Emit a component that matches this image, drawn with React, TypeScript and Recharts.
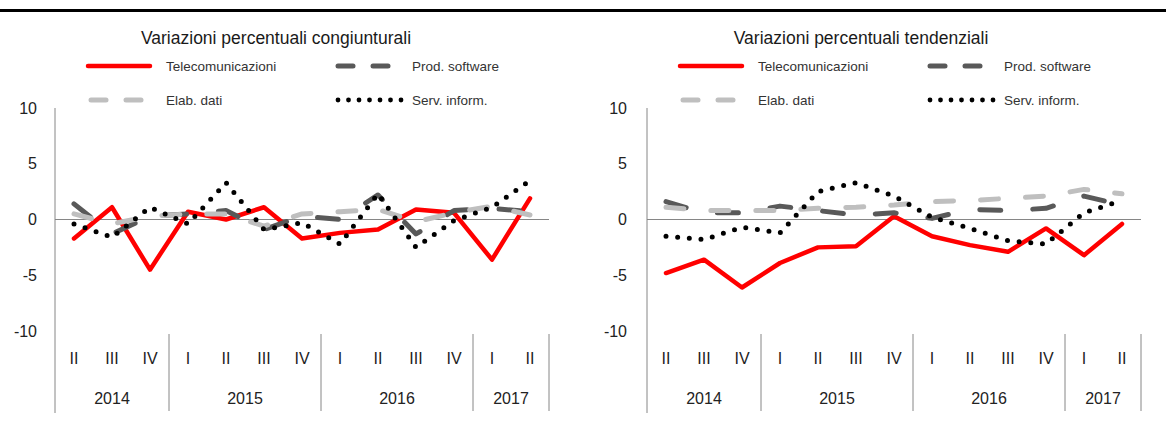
import { LineChart, Line, XAxis, YAxis, ReferenceLine } from 'recharts';

const quarters = ['II', 'III', 'IV', 'I', 'II', 'III', 'IV', 'I', 'II', 'III', 'IV', 'I', 'II'];
const years = ['2014', '2014', '2014', '2015', '2015', '2015', '2015', '2016', '2016', '2016', '2016', '2017', '2017'];
const yTicks = [-10, -5, 0, 5, 10];

// variazioni congiunturali
const congTel = [-1.7, 1.1, -4.5, 0.7, 0.0, 1.1, -1.7, -1.2, -0.9, 0.9, 0.6, -3.6, 1.9];
const congSoft = [1.4, -1.3, 0.3, 0.5, 0.8, -0.9, 0.3, 0.0, 2.2, -1.3, 0.8, 1.0, 0.7];
const congElab = [0.5, -0.4, 0.3, 0.5, 0.5, -0.6, 0.5, 0.7, 0.9, -0.2, 0.6, 1.2, 0.4];
const congServ = [-0.4, -1.6, 1.1, -0.4, 3.3, -0.9, -0.3, -2.2, 2.3, -2.5, -0.1, 1.1, 3.5];

// variazioni tendenziali
const tendTel = [-4.8, -3.6, -6.1, -3.9, -2.5, -2.4, 0.3, -1.5, -2.3, -2.9, -0.8, -3.2, -0.4];
const tendSoft = [1.6, 0.6, 0.6, 1.2, 0.8, 0.4, 0.6, 0.1, 0.9, 0.8, 1.0, 2.1, 1.3];
const tendElab = [1.1, 0.8, 0.8, 0.8, 1.0, 1.1, 1.3, 1.6, 1.7, 1.9, 2.1, 2.7, 2.3];
const tendServ = [-1.5, -1.8, -0.7, -1.2, 2.5, 3.3, 2.1, 0.2, -0.8, -1.9, -2.2, 0.6, 1.7];

const series = [
  { key: 'tel', name: 'Telecomunicazioni', color: '#ff0000', width: 4.5, dash: undefined as string | undefined },
  { key: 'soft', name: 'Prod. software', color: '#595959', width: 5, dash: '21 32' },
  { key: 'elab', name: 'Elab. dati', color: '#bfbfbf', width: 5, dash: '18 27' },
  { key: 'serv', name: 'Serv. inform.', color: '#000000', width: 5, dash: '0 11.7' },
];

const keys = quarters.map((q, i) => `${years[i]} ${q}`);

const groups: { label: string; start: number; end: number }[] = [];
years.forEach((y, i) => {
  const last = groups[groups.length - 1];
  if (last && last.label === y) last.end = i;
  else groups.push({ label: y, start: i, end: i });
});

function buildRows(tel: number[], soft: number[], elab: number[], serv: number[]) {
  return keys.map((k, i) => ({ k, tel: tel[i], soft: soft[i], elab: elab[i], serv: serv[i] }));
}

const PLOT_W = 494;
const BW = PLOT_W / quarters.length;
const AXIS = '#868686';
const FONT = '"Liberation Sans", Arial, sans-serif';

function QuarterTick(props: any) {
  const { x, y, payload } = props;
  const i = keys.indexOf(payload.value);
  const g = groups.find((gr) => gr.start === i);
  return (
    <g>
      <text x={x} y={y + 33} textAnchor="middle" fontSize={16} fill="#222">
        {quarters[i]}
      </text>
      {g && (
        <line x1={x - BW / 2} x2={x - BW / 2} y1={i === 0 ? y : y + 3} y2={i === 0 ? y + 82 : y + 80} stroke={AXIS} />
      )}
      {g && (
        <text x={x + ((g.end - g.start) / 2) * BW} y={y + 73} textAnchor="middle" fontSize={16} fill="#222">
          {g.label}
        </text>
      )}
      {i === quarters.length - 1 && (
        <line x1={x + BW / 2} x2={x + BW / 2} y1={y + 3} y2={y + 80} stroke={AXIS} />
      )}
    </g>
  );
}

function LegendSample({ s, x, y }: { s: (typeof series)[number]; x: number; y: number }) {
  if (s.key === 'tel') return <line x1={x} x2={x + 62} y1={y} y2={y} stroke={s.color} strokeWidth={4.5} strokeLinecap="round" />;
  if (s.key === 'serv') {
    return (
      <g>
        {[0, 1, 2, 3, 4, 5, 6].map((d) => (
          <circle key={d} cx={x + 3 + d * 10.5} cy={y} r={2.4} fill={s.color} />
        ))}
      </g>
    );
  }
  return (
    <g>
      <line x1={x + 3} x2={x + 18} y1={y} y2={y} stroke={s.color} strokeWidth={5} strokeLinecap="round" />
      <line x1={x + 38} x2={x + 53} y1={y} y2={y} stroke={s.color} strokeWidth={5} strokeLinecap="round" />
    </g>
  );
}

function Panel({ left, title, titleX, rows, tickMargin }: { left: number; title: string; titleX: number; rows: any[]; tickMargin: number }) {
  const slots = [
    { x: 88, tx: 166, y: 66 },
    { x: 335, tx: 412, y: 66 },
    { x: 88, tx: 166, y: 100 },
    { x: 335, tx: 412, y: 100 },
  ];
  return (
    <div style={{ position: 'absolute', left, top: 0, width: 600, height: 430 }}>
      <svg width={600} height={120} style={{ position: 'absolute', left: 0, top: 0 }}>
        <text x={titleX} y={44} textAnchor="middle" fontSize={17.5} fill="#1a1a1a">
          {title}
        </text>
        {series.map((s, i) => (
          <g key={s.key}>
            <LegendSample s={s} x={slots[i].x} y={slots[i].y} />
            <text x={slots[i].tx} y={slots[i].y + 5} fontSize={13.5} fill="#333">
              {s.name}
            </text>
          </g>
        ))}
      </svg>
      <LineChart
        width={600}
        height={430}
        data={rows}
        margin={{ top: 108, right: 51, bottom: 17, left: 15 }}
        style={{ position: 'absolute', left: 0, top: 0 }}
      >
        <XAxis
          dataKey="k"
          axisLine={false}
          tickLine={false}
          tickSize={0}
          tickMargin={0}
          height={82}
          interval={0}
          padding={{ left: BW / 2, right: BW / 2 }}
          tick={<QuarterTick />}
        />
        <YAxis
          domain={[-10, 10]}
          ticks={yTicks}
          width={40}
          axisLine={{ stroke: AXIS }}
          tickLine={false}
          tickSize={0}
          tickMargin={tickMargin}
          tick={{ fontSize: 16, fill: '#222' }}
          allowDataOverflow
        />
        <ReferenceLine y={0} stroke={AXIS} />
        {series.map((s) => (
          <Line
            key={s.key}
            dataKey={s.key}
            name={s.name}
            type="linear"
            stroke={s.color}
            strokeWidth={s.width}
            strokeDasharray={s.dash}
            strokeLinecap="round"
            strokeLinejoin="round"
            dot={false}
            activeDot={false}
            isAnimationActive={false}
          />
        ))}
      </LineChart>
    </div>
  );
}

export default function App() {
  return (
    <div style={{ position: 'absolute', left: 0, top: 0, width: 1166, height: 430, background: '#fff', fontFamily: FONT }}>
      <div style={{ position: 'absolute', left: 0, top: 9, width: 1166, height: 3, background: '#000' }} />
      <Panel
        left={0}
        title="Variazioni percentuali congiunturali"
        titleX={276}
        rows={buildRows(congTel, congSoft, congElab, congServ)}
        tickMargin={18}
      />
      <Panel
        left={592}
        title="Variazioni percentuali tendenziali"
        titleX={269}
        rows={buildRows(tendTel, tendSoft, tendElab, tendServ)}
        tickMargin={20}
      />
    </div>
  );
}
